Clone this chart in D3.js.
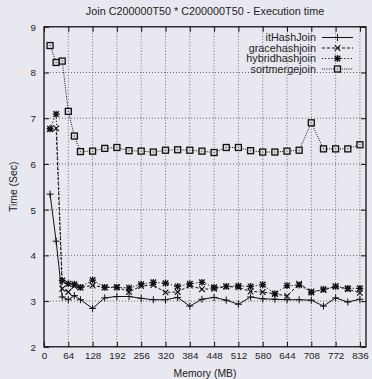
<!DOCTYPE html>
<html>
<head>
<meta charset="utf-8">
<script src="https://cdn.jsdelivr.net/npm/d3@7"></script>
<style>
  html, body { margin: 0; padding: 0; background: #e8e8f0; }
  svg { display: block; }
  text { font-family: "Liberation Sans", Arial, Helvetica, sans-serif; fill: #222; }
</style>
</head>
<body>
<svg id="chart" width="372" height="379"></svg>
<script>
// Memory budget (MB) for each run
const memory = [16, 32, 48, 64, 80, 96, 128, 160, 192, 224, 256, 288, 320, 352, 384, 416,
  448, 480, 512, 544, 576, 608, 640, 672, 704, 736, 768, 800, 832];

// Execution time (sec) per join algorithm
const itHashJoin = [5.34, 4.31, 3.09, 3.03, 3.12, 3.03, 2.84, 3.07, 3.10, 3.10, 3.06, 3.03, 3.03,
  3.08, 2.89, 3.04, 3.08, 3.02, 2.93, 3.09, 3.05, 3.04, 3.03, 3.03, 3.02, 2.89, 3.07, 2.98, 3.04];
const gracehashjoin = [6.76, 6.78, 3.27, 3.20, 3.33, 3.30, 3.34, 3.30, 3.31, 3.20, 3.33, 3.35, 3.19,
  3.20, 3.34, 3.26, 3.27, 3.32, 3.30, 3.21, 3.20, 3.16, 3.11, 3.38, 3.21, 3.24, 3.32, 3.26, 3.18];
const hybridhashjoin = [6.77, 7.09, 3.45, 3.38, 3.37, 3.30, 3.46, 3.30, 3.30, 3.29, 3.37, 3.41, 3.39,
  3.32, 3.38, 3.41, 3.30, 3.32, 3.33, 3.32, 3.36, 3.16, 3.34, 3.35, 3.19, 3.26, 3.32, 3.28, 3.28];
const sortmergejoin = [8.59, 8.22, 8.25, 7.15, 6.61, 6.27, 6.28, 6.34, 6.36, 6.29, 6.28, 6.26, 6.30,
  6.31, 6.30, 6.28, 6.25, 6.36, 6.36, 6.29, 6.26, 6.26, 6.28, 6.30, 6.90, 6.33, 6.33, 6.33, 6.42];

// Axis ticks
const xTickValues = [0, 64, 128, 192, 256, 320, 384, 448, 512, 576, 640, 704, 768, 832];
const xTickLabels = ["0", "64", "128", "192", "256", "320", "384", "448", "512", "580", "644", "708", "772", "836"];
const yTickValues = [2, 3, 4, 5, 6, 7, 8, 9];

const seriesNames = ["itHashJoin", "gracehashjoin", "hybridhashjoin", "sortmergejoin"];

const svg = d3.select("#chart");
const plot = { left: 44, right: 366, top: 26.8, bottom: 346.8 };

const x = d3.scaleLinear().domain([0, 848]).range([plot.left, plot.right]);
const y = d3.scaleLinear().domain([2, 9]).range([plot.bottom, plot.top]);

// Dotted grid
const grid = svg.append("g").attr("stroke", "#4a4a4a").attr("stroke-width", 0.8)
  .attr("stroke-dasharray", "1,2").attr("fill", "none");
xTickValues.slice(1).forEach(v => {
  grid.append("line").attr("x1", x(v)).attr("x2", x(v)).attr("y1", plot.top).attr("y2", plot.bottom);
});
yTickValues.slice(1, -1).forEach(v => {
  grid.append("line").attr("x1", plot.left).attr("x2", plot.right).attr("y1", y(v)).attr("y2", y(v));
});

// Axes with inward ticks, mirrored on top and right
const fmtX = (d, i) => xTickLabels[i];
const xAxis = svg.append("g").attr("transform", `translate(0,${plot.bottom})`)
  .call(d3.axisBottom(x).tickValues(xTickValues).tickFormat(fmtX).tickSize(-5).tickPadding(5));
const xAxisTop = svg.append("g").attr("transform", `translate(0,${plot.top})`)
  .call(d3.axisTop(x).tickValues(xTickValues).tickFormat("").tickSize(-5));
const yAxis = svg.append("g").attr("transform", `translate(${plot.left},0)`)
  .call(d3.axisLeft(y).tickValues(yTickValues).tickFormat(d3.format("d")).tickSize(-5).tickPadding(8));
const yAxisRight = svg.append("g").attr("transform", `translate(${plot.right},0)`)
  .call(d3.axisRight(y).tickValues(yTickValues).tickFormat("").tickSize(-5));

[xAxis, xAxisTop, yAxis, yAxisRight].forEach(g => {
  g.select(".domain").remove();
  g.selectAll(".tick line").attr("stroke", "#111").attr("stroke-width", 1);
  g.selectAll(".tick text").attr("font-size", 9.8).attr("fill", "#222");
});
yAxis.selectAll(".tick text").attr("dy", "0.35em");

// Plot border
svg.append("rect")
  .attr("x", plot.left).attr("y", plot.top)
  .attr("width", plot.right - plot.left).attr("height", plot.bottom - plot.top)
  .attr("fill", "none").attr("stroke", "#111").attr("stroke-width", 1.3);

// Titles
svg.append("text").attr("x", (plot.left + plot.right) / 2).attr("y", 15)
  .attr("text-anchor", "middle").attr("font-size", 10.8).text("Join C200000T50 * C200000T50 - Execution time");
svg.append("text").attr("x", (plot.left + plot.right) / 2).attr("y", 377)
  .attr("text-anchor", "middle").attr("font-size", 10.4).text("Memory (MB)");
svg.append("text")
  .attr("transform", `translate(17,${(plot.top + plot.bottom) / 2}) rotate(-90)`)
  .attr("text-anchor", "middle").attr("font-size", 10.4).text("Time (Sec)");

// Marker drawing functions
function plusMark(g, cx, cy) {
  g.append("path").attr("d", `M${cx - 3.5},${cy}H${cx + 3.5}M${cx},${cy - 3.5}V${cy + 3.5}`)
    .attr("stroke", "#111").attr("stroke-width", 1).attr("fill", "none");
}
function crossMark(g, cx, cy) {
  const r = 2.8;
  g.append("path").attr("d", `M${cx - r},${cy - r}L${cx + r},${cy + r}M${cx - r},${cy + r}L${cx + r},${cy - r}`)
    .attr("stroke", "#111").attr("stroke-width", 1.1).attr("fill", "none");
}
function starMark(g, cx, cy) {
  const r = 2.8, p = 3.4;
  g.append("path").attr("d",
    `M${cx - r},${cy - r}L${cx + r},${cy + r}M${cx - r},${cy + r}L${cx + r},${cy - r}` +
    `M${cx - p},${cy}H${cx + p}M${cx},${cy - p}V${cy + p}`)
    .attr("stroke", "#111").attr("stroke-width", 1.3).attr("fill", "none");
}
function boxMark(g, cx, cy) {
  g.append("rect").attr("x", cx - 3).attr("y", cy - 3).attr("width", 6).attr("height", 6)
    .attr("fill", "#d8d8de").attr("stroke", "#111").attr("stroke-width", 1.3);
  g.append("rect").attr("x", cx - 0.5).attr("y", cy - 0.5).attr("width", 1).attr("height", 1)
    .attr("fill", "#333");
}

const series = [
  { name: seriesNames[0], values: itHashJoin, dash: null, mark: plusMark },
  { name: seriesNames[1], values: gracehashjoin, dash: "3,2", mark: crossMark },
  { name: seriesNames[2], values: hybridhashjoin, dash: "1.2,2", mark: starMark },
  { name: seriesNames[3], values: sortmergejoin, dash: "1,1.2", mark: boxMark }
];

const line = d3.line().x(d => x(d[0])).y(d => y(d[1]));

series.forEach(s => {
  const pts = memory.map((m, i) => [m, s.values[i]]);
  const g = svg.append("g");
  g.append("path").attr("d", line(pts)).attr("fill", "none")
    .attr("stroke", "#111").attr("stroke-width", 1)
    .attr("stroke-dasharray", s.dash);
  pts.forEach(p => s.mark(g, x(p[0]), y(p[1])));
});

// Legend
const legend = svg.append("g");
series.forEach((s, i) => {
  const ly = 37.5 + i * 10.5;
  legend.append("text").attr("x", 316).attr("y", ly).attr("dy", "0.35em")
    .attr("text-anchor", "end").attr("font-size", 10.8).text(s.name);
  legend.append("line").attr("x1", 322).attr("x2", 353).attr("y1", ly).attr("y2", ly)
    .attr("stroke", "#111").attr("stroke-width", 1).attr("stroke-dasharray", s.dash);
  s.mark(legend, 337.5, ly);
});
</script>
</body>
</html>
